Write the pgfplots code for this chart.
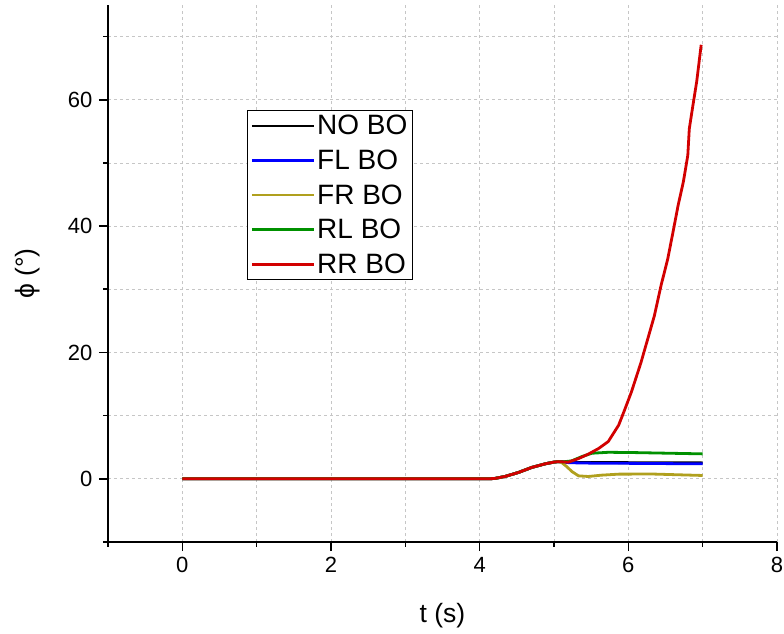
\documentclass[border=0pt]{standalone}
\usepackage{fontspec}
\setmainfont{Liberation Sans}
\usepackage{pgfplots}
\pgfplotsset{compat=1.18}
\definecolor{cblue}{RGB}{0,0,255}
\definecolor{colive}{RGB}{176,160,30}
\definecolor{cgreen}{RGB}{0,145,0}
\definecolor{cred}{RGB}{210,0,0}
\begin{document}
\begin{tikzpicture}
\path[use as bounding box] (-108pt,-92pt) rectangle (676pt,542pt);
\begin{axis}[
  at={(0pt,0pt)}, anchor=south west,
  scale only axis, width=669pt, height=537pt,
  xmin=-1, xmax=8, ymin=-10, ymax=75,
  axis x line*=bottom, axis y line*=left,
  axis line style={line width=1.8pt},
  xtick={0,2,4,6,8}, ytick={0,20,40,60},
  minor xtick={-1,1,3,5,7}, minor ytick={-10,10,30,50,70},
  tick align=outside,
  major tick length=9pt, minor tick length=4.5pt,
  tick style={line width=1.6pt, black},
  grid=both,
  major grid style={dashed, gray!45, line width=0.7pt},
  minor grid style={dashed, gray!45, line width=0.7pt},
  /pgf/number format/assume math mode=true,
  tick label style={font=\fontsize{22}{26}\selectfont},
  xticklabel style={yshift=-3pt},
  yticklabel style={xshift=-3pt},
  xlabel={t (s)}, ylabel={ϕ (°)},
  label style={font=\fontsize{26.5}{30}\selectfont},
  xlabel style={at={(axis description cs:0.5,0)}, anchor=center, yshift=-74pt},
  ylabel style={at={(axis description cs:0,0.5)}, anchor=center, rotate=0, yshift=80pt},
  legend style={at={(0.2078,0.8045)}, anchor=north west, draw=black, line width=0.8pt,
    fill=white, font=\fontsize{28}{29}\selectfont, row sep=9.5pt, inner sep=3pt,
    cells={anchor=west}},
  legend image code/.code={\draw[#1, line width=2.8pt] (0pt,0pt) -- (62pt,0pt);},
  every axis plot/.append style={line width=2.8pt},
]
\addplot[black] coordinates {
(0,0) (4.1,0) (4.2,0.05) (4.34,0.37) (4.52,1.0) (4.70,1.8) (4.88,2.37) (5.0,2.65) (5.06,2.72) (5.12,2.68)
(5.3,2.6) (6,2.56) (7,2.52)};
\addlegendentry{NO BO}
\addplot[cblue] coordinates {
(0,0) (4.1,0) (4.2,0.05) (4.34,0.37) (4.52,1.0) (4.70,1.8) (4.88,2.37) (5.0,2.65) (5.06,2.72) (5.12,2.68)
(5.2,2.55) (5.5,2.48) (6,2.45) (7,2.37)};
\addlegendentry{FL BO}
\addplot[colive] coordinates {
(0,0) (4.1,0) (4.2,0.05) (4.34,0.37) (4.52,1.0) (4.70,1.8) (4.88,2.37) (5.0,2.65) (5.06,2.72) (5.1,2.6)
(5.17,1.95) (5.24,1.16) (5.33,0.47) (5.46,0.37) (5.64,0.58) (5.87,0.74) (6.32,0.76) (7,0.53)};
\addlegendentry{FR BO}
\addplot[cgreen] coordinates {
(0,0) (4.1,0) (4.2,0.05) (4.34,0.37) (4.52,1.0) (4.70,1.8) (4.88,2.37) (5.0,2.65) (5.06,2.72) (5.12,2.68)
(5.24,2.85) (5.37,3.5) (5.51,4.05) (5.73,4.2) (6.1,4.15) (6.55,4.05) (7,3.95)};
\addlegendentry{RL BO}
\addplot[cred] coordinates {
(0,0) (4.1,0) (4.2,0.05) (4.34,0.37) (4.52,1.0) (4.70,1.8) (4.88,2.37) (5.0,2.65) (5.06,2.72) (5.12,2.68)
(5.19,2.63) (5.33,3.2) (5.46,3.9) (5.6,4.8) (5.73,5.9) (5.8,7.2) (5.87,8.5) (5.94,10.6) (6.04,13.7)
(6.17,18.4) (6.26,22.1) (6.35,25.8) (6.44,30.6) (6.53,34.8) (6.60,39.0) (6.67,43.3) (6.74,47.0)
(6.80,51.2) (6.82,55.4) (6.87,59.2) (6.92,62.9) (6.98,68.7)};
\addlegendentry{RR BO}
\end{axis}
\end{tikzpicture}
\end{document}
